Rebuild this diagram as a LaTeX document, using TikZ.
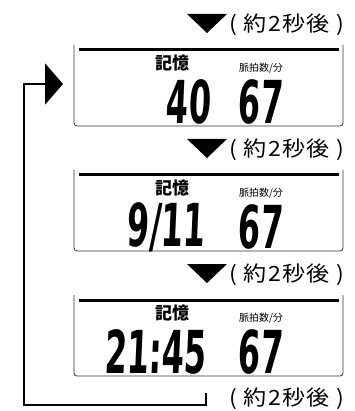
\documentclass[tikz,border=0pt]{standalone}
\usepackage{fontspec}
\setmainfont{Liberation Sans}
\newfontfamily\jpfont{Noto Sans CJK JP}
\newfontfamily\waitfont[LetterSpace=6]{Noto Sans CJK JP}
\newfontfamily\lcdfont[FakeSlant=0.08]{DejaVu Sans}
\usetikzlibrary{arrows.meta,positioning,calc}
\tikzset{
  lcdpanel/.style={draw=black!80,line width=0.8pt,rounded corners=3pt},
  lcdbar/.style={line width=3pt},
  memlabel/.style={font=\jpfont\bfseries\fontsize{17}{17}\selectfont,inner sep=0pt},
  pulselabel/.style={font=\jpfont\fontsize{10}{10}\selectfont,inner sep=0pt},
  lcddigits/.style={font=\lcdfont\bfseries\fontsize{40}{40}\selectfont,inner sep=0pt},
  waitlabel/.style={font=\waitfont\fontsize{21}{21}\selectfont,inner sep=0pt,anchor=west},
  steptri/.style={fill=black},
  looparrow/.style={line width=1.6pt,-{Triangle[length=18pt,width=41pt]}}
}
\newcommand{\lcd}[1]{\scalebox{0.8}[1.48]{#1}}
\newcommand{\wait}{\scalebox{1.1}[1]{( 約2秒後 )}}

\begin{document}
\begin{tikzpicture}[x=1pt,y=-1pt]
\useasboundingbox (0,0) rectangle (354,411);
% the three display panels
\foreach \top/\id in {45/a,170/b,295/c}{
  \draw[lcdpanel] (74,\top) -- (74,\top+81) -- (343,\top+81) -- (343,\top);
  \draw[lcdbar] (79,\top+5) -- (339,\top+5);
  \node[memlabel] (mem\id) at (172,\top+18.5) {記憶};
  \node[pulselabel] (pulse\id) at (261,\top+23) {脈拍数/分};
  \node[lcddigits] (rate\id) at (260,\top+57) {\lcd{67}};
  \fill[steptri] (207,\top-12) -- (187,\top-31) -- (227,\top-31) -- cycle;
  \node[waitlabel] (wait\id) at (229,\top-20) {\wait};
}
\node[lcddigits] (memdigits) at (188,102) {\lcd{40}};
\node[lcddigits] (datedigits) at (166,227) {\lcd{9/11}};
\node[lcddigits] (timedigits) at (155,352) {\lcd{21:45}};
\node[waitlabel] (waitback) at (229,399) {\wait};
% back to the first panel
\coordinate (loopend) at (206,393);
\coordinate (entry) at (63,84);
\draw[looparrow] (loopend) -- ++(0,12) -| ([xshift=-39pt]entry) -- (entry);
\end{tikzpicture}
\end{document}
